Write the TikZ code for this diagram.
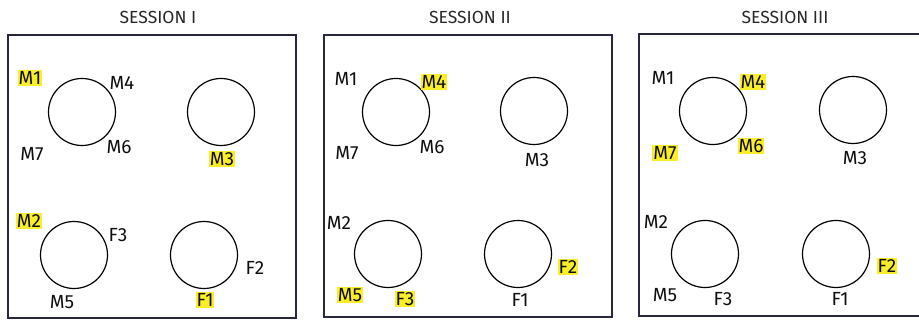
\documentclass[tikz,border=0pt]{standalone}
\usepackage{fontspec}
\setmainfont{Fira Sans}
\definecolor{hl}{RGB}{250,238,40}
\definecolor{boxc}{RGB}{40,40,60}
\definecolor{txt}{RGB}{15,15,15}
\begin{document}
\begin{tikzpicture}[x=1pt,y=-1pt,
  panel/.style={draw=boxc,line width=1.3pt},
  seat/.style={draw=black,circle,line width=1.2pt,minimum size=67pt,inner sep=0pt},
  lab/.style={font=\fontsize{19}{19}\selectfont,text=txt,inner sep=1pt},
  hlab/.style={lab,fill=hl},
  ttl/.style={font=\fontsize{17.5}{17.5}\selectfont,text=txt!90}]
\useasboundingbox (0,0) rectangle (919,320);
\clip (0,0) rectangle (919,320);
% Session I
\node[ttl] (t1) at (158,17) {SESSION I};
\draw[panel] (8,35) rectangle (296,318);
\node[seat] (a1) at (82,112) {};
\node[seat] (a2) at (221,112) {};
\node[seat] (a3) at (74,255) {};
\node[seat] (a4) at (204,255) {};
\node[hlab] (a1m1) at (30,78) {M1};
\node[lab] (a1m4) at (122,83) {M4};
\node[lab] (a1m7) at (32,154) {M7};
\node[lab] (a1m6) at (119,147) {M6};
\node[hlab] (a2m3) at (222,159) {M3};
\node[hlab] (a3m2) at (29,221) {M2};
\node[lab] (a3f3) at (118,235) {F3};
\node[lab] (a3m5) at (62,302) {M5};
\node[lab] (a4f2) at (255,268) {F2};
\node[hlab] (a4f1) at (205,300) {F1};
% Session II
\node[ttl] (t2) at (470,17) {SESSION II};
\draw[panel] (324,35) rectangle (612,317);
\node[seat] (b1) at (396,112) {};
\node[seat] (b2) at (534,111) {};
\node[seat] (b3) at (388,254) {};
\node[seat] (b4) at (518,254) {};
\node[lab] (b1m1) at (346,79) {M1};
\node[hlab] (b1m4) at (434,82) {M4};
\node[lab] (b1m7) at (347,153) {M7};
\node[lab] (b1m6) at (432,147) {M6};
\node[lab] (b2m3) at (537,160) {M3};
\node[lab] (b3m2) at (339,223) {M2};
\node[hlab] (b3m5) at (350,295) {M5};
\node[hlab] (b3f3) at (405,299) {F3};
\node[hlab] (b4f2) at (568,267) {F2};
\node[lab] (b4f1) at (520,300) {F1};
% Session III
\node[ttl] (t3) at (785,17) {SESSION III};
\draw[panel] (639,34) rectangle (930,316);
\node[seat] (c1) at (713,111) {};
\node[seat] (c2) at (853,110) {};
\node[seat] (c3) at (705,254) {};
\node[seat] (c4) at (836,254) {};
\node[lab] (c1m1) at (663,78) {M1};
\node[hlab] (c1m4) at (753,82) {M4};
\node[hlab] (c1m7) at (665,153) {M7};
\node[hlab] (c1m6) at (751,146) {M6};
\node[lab] (c2m3) at (855,158) {M3};
\node[lab] (c3m2) at (656,222) {M2};
\node[lab] (c3m5) at (665,295) {M5};
\node[lab] (c3f3) at (723,299) {F3};
\node[lab] (c4f1) at (840,299) {F1};
\node[hlab] (c4f2) at (887,266) {F2};
\end{tikzpicture}
\end{document}
